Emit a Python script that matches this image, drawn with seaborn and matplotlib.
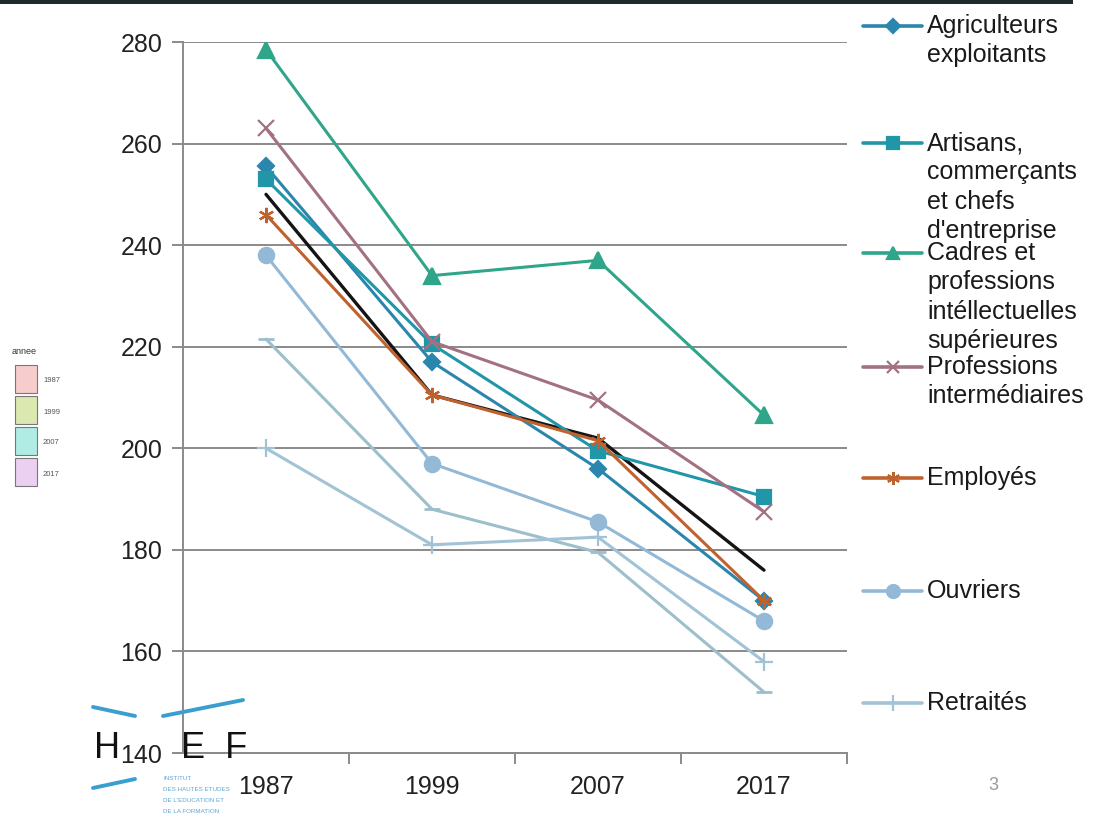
import matplotlib
matplotlib.use("Agg")
import matplotlib.pyplot as plt
from matplotlib.lines import Line2D
from matplotlib.patches import Rectangle
import seaborn as sns
import pandas as pd

# ---------------- data ----------------
years = ["1987", "1999", "2007", "2017"]
agriculteurs = [255.5, 217.0, 196.0, 170.0]
artisans = [253.0, 220.5, 199.5, 190.5]
cadres = [278.5, 234.0, 237.0, 206.5]
prof_inter = [263.0, 221.0, 209.5, 187.5]
employes = [246.0, 210.5, 201.5, 170.0]
ouvriers = [238.0, 197.0, 185.5, 166.0]
retraites = [200.0, 181.0, 182.5, 158.0]
ensemble = [250.0, 210.5, 202.0, 176.0]
autres = [221.5, 188.0, 179.5, 152.0]

series_names = ["Agriculteurs\nexploitants",
                "Artisans,\ncommerçants\net chefs\nd'entreprise",
                "Cadres et\nprofessions\nintéllectuelles\nsupérieures",
                "Professions\nintermédiaires",
                "Employés",
                "Ouvriers",
                "Retraités"]
series_values = [agriculteurs, artisans, cadres, prof_inter, employes, ouvriers, retraites]
extra_values = [ensemble, autres]

annee_labels = ["1987", "1999", "2007", "2017"]
annee_colors = ["#f6cccc", "#dbe8b0", "#b0ebe4", "#ecd0f2"]

# styles
colors = ["#2b86ad", "#2196a8", "#2fa589", "#a27282", "#c0622e", "#93b9d6", "#a2c3d6"]
markers = ["D", "s", "^", "x", (6, 2, 0), "o", "+"]
msizes = [8, 10, 11, 11, 11, 11, 13]
extra_colors = ["#141414", "#9dbfcb"]
extra_markers = [None, "_"]

# ---------------- figure ----------------
sns.set_style("white")
plt.rcParams["font.family"] = ["Liberation Sans", "DejaVu Sans"]

W, H = 1101, 822
fig = plt.figure(figsize=(W / 100, H / 100), dpi=100)
fig.patch.set_facecolor("white")


def fx(x):
    return x / W


def fy(y):
    return 1 - y / H


ax = fig.add_axes([fx(183), fy(753), 664 / W, 711 / H])

rows = []
for name, vals in zip(series_names, series_values):
    for yr, v in zip(years, vals):
        rows.append({"annee": yr, "valeur": v, "groupe": name})
for i, vals in enumerate(extra_values):
    for yr, v in zip(years, vals):
        rows.append({"annee": yr, "valeur": v, "groupe": f"extra{i}"})
df = pd.DataFrame(rows)

# extra (unlabelled) lines first
for i in range(len(extra_values)):
    sub = df[df["groupe"] == f"extra{i}"]
    kw = {}
    if extra_markers[i] is not None:
        kw = dict(marker=extra_markers[i], markersize=12, markeredgewidth=2,
                  markeredgecolor=extra_colors[i])
    sns.lineplot(data=sub, x="annee", y="valeur", ax=ax, color=extra_colors[i],
                 linewidth=2.4 if i == 0 else 2.2, legend=False, sort=False,
                 zorder=3 if i == 0 else 2, **kw)

order_draw = [6, 5, 0, 1, 3, 4, 2]
for i in order_draw:
    sub = df[df["groupe"] == series_names[i]]
    sns.lineplot(data=sub, x="annee", y="valeur", ax=ax, color=colors[i],
                 linewidth=2.2, marker=markers[i], markersize=msizes[i],
                 markeredgecolor=colors[i], markeredgewidth=1.6,
                 legend=False, sort=False, zorder=4)

ax.set_xlim(-0.5, 3.5)
ax.set_ylim(140, 280)
ax.set_yticks(range(140, 281, 20))
ax.set_xlabel("")
ax.set_ylabel("")
ax.grid(False)
ax.yaxis.grid(True, color="#8a8a8a", linewidth=1.4)
ax.set_axisbelow(True)
for s in ["top", "right"]:
    ax.spines[s].set_visible(False)
for s in ["left", "bottom"]:
    ax.spines[s].set_color("#8a8a8a")
    ax.spines[s].set_linewidth(1.4)
ax.tick_params(axis="y", length=8, width=1.4, color="#8a8a8a", labelsize=18,
               labelcolor="#222222", pad=7, direction="out", left=True)
ax.set_xticks([0.5, 1.5, 2.5, 3.5], minor=True)
ax.tick_params(axis="x", which="major", length=0, labelsize=18,
               labelcolor="#222222", pad=16)
ax.tick_params(axis="x", which="minor", length=8, width=1.4, color="#8a8a8a",
               direction="out", bottom=True)

# ---------------- legend (right) ----------------
handle_y = [26, 143, 253, 367, 478, 591, 703]
for i, hy in enumerate(handle_y):
    fig.add_artist(Line2D([fx(863), fx(922)], [fy(hy), fy(hy)], color=colors[i],
                          linewidth=2.6, transform=fig.transFigure))
    fig.add_artist(Line2D([fx(892.5)], [fy(hy)], color=colors[i], marker=markers[i],
                          markersize=msizes[i] * 0.85, markeredgecolor=colors[i],
                          markeredgewidth=1.6, transform=fig.transFigure))
    fig.text(fx(927), fy(hy - 12), series_names[i], fontsize=18, color="#1a1a1a",
             va="top", ha="left", linespacing=1.28)

# ---------------- small 'annee' legend (left) ----------------
fig.text(fx(12), fy(352), "annee", fontsize=6.5, color="#333333", va="center")
for k, (lab, col) in enumerate(zip(annee_labels, annee_colors)):
    top = 365 + k * 31
    fig.add_artist(Rectangle((fx(15), fy(top + 28)), 22 / W, 28 / H,
                             facecolor=col, edgecolor="#777777", linewidth=0.8,
                             transform=fig.transFigure))
    fig.text(fx(43), fy(top + 16), lab, fontsize=5.5, color="#555555", va="center")

# ---------------- top border ----------------
fig.add_artist(Rectangle((0, fy(4)), fx(1073), 4 / H, facecolor="#1f2b2b",
                         edgecolor="none", transform=fig.transFigure))

# ---------------- logo ----------------
logo_blue = "#3a9fd0"
for (x0, y0, x1, y1) in [(93, 707, 135, 716), (163, 716, 243, 700), (93, 788, 135, 779)]:
    fig.add_artist(Line2D([fx(x0), fx(x1)], [fy(y0), fy(y1)], color=logo_blue,
                          linewidth=2.8, transform=fig.transFigure))
fig.text(fx(94), fy(748), "H", fontsize=26, color="#111111", va="center")
fig.text(fx(181), fy(748), "E  F", fontsize=26, color="#111111", va="center")
for k, line in enumerate(["INSTITUT", "DES HAUTES ETUDES", "DE L'EDUCATION ET",
                          "DE LA FORMATION"]):
    fig.text(fx(163), fy(778 + k * 11), line, fontsize=4.5, color="#5aa8d8",
             va="center")

# page number
fig.text(fx(993), fy(785), "3", fontsize=13, color="#999999", va="center", ha="center")

fig.savefig("out.png", dpi=100, facecolor="white")
